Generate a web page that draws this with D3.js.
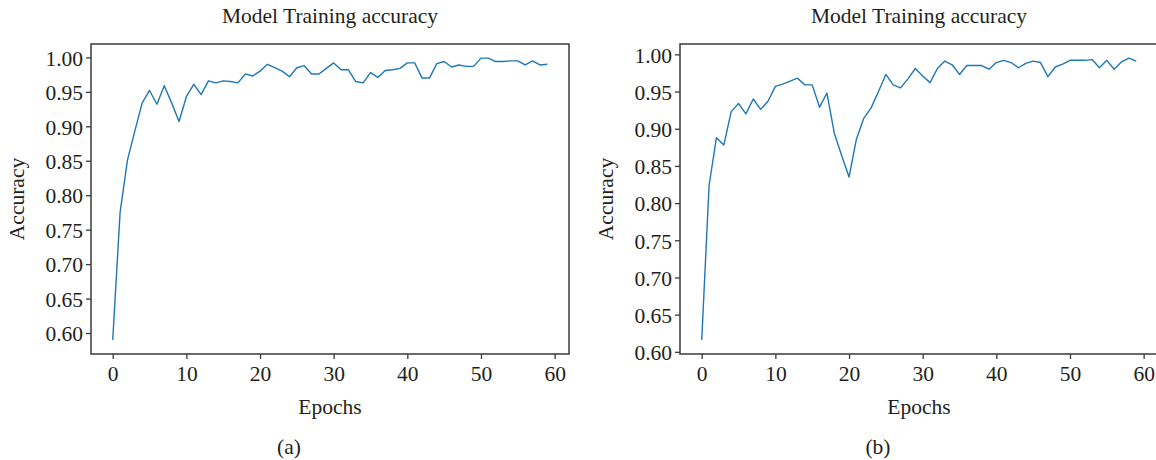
<!DOCTYPE html>
<html lang="en">
	<head>
		<meta charset="utf-8">
		<title>Model Training accuracy</title>
		<script src="https://cdn.jsdelivr.net/npm/d3@7"></script>
		<style>
			html, body { margin: 0; padding: 0; background: #fff; }
			svg { display: block; }
			text { font-family: "Liberation Serif", "DejaVu Serif", serif; fill: #231f20; }
			.axis line { stroke: #3a3a3a; stroke-width: 1.3px; }
			.axis text { font-size: 21.5px; }
		</style>
	</head>
	<body>
		<script>

			//Training accuracy per epoch, panel (a)
			var accA = [
				0.590, 0.775, 0.851, 0.893, 0.934, 0.952, 0.932, 0.959, 0.934, 0.907,
				0.943, 0.961, 0.946, 0.966, 0.963, 0.966, 0.965, 0.963, 0.976, 0.973,
				0.980, 0.990, 0.985, 0.980, 0.972, 0.985, 0.988, 0.976, 0.976, 0.984,
				0.992, 0.982, 0.982, 0.965, 0.963, 0.978, 0.971, 0.981, 0.982, 0.984,
				0.992, 0.992, 0.970, 0.970, 0.991, 0.994, 0.986, 0.989, 0.987, 0.987,
				0.999, 0.999, 0.994, 0.994, 0.995, 0.995, 0.989, 0.995, 0.989, 0.990
			];

			//Training accuracy per epoch, panel (b)
			var accB = [
				0.616, 0.824, 0.888, 0.878, 0.923, 0.934, 0.920, 0.940, 0.926, 0.937,
				0.957, 0.960, 0.964, 0.968, 0.959, 0.959, 0.929, 0.948, 0.894, 0.864,
				0.835, 0.886, 0.914, 0.928, 0.950, 0.973, 0.959, 0.955, 0.967, 0.981,
				0.971, 0.962, 0.981, 0.991, 0.986, 0.973, 0.985, 0.985, 0.985, 0.980,
				0.989, 0.992, 0.989, 0.982, 0.988, 0.991, 0.989, 0.970, 0.983, 0.987,
				0.992, 0.992, 0.992, 0.993, 0.982, 0.992, 0.980, 0.990, 0.995, 0.991
			];

			//Tick labels
			var xTicks = [0, 10, 20, 30, 40, 50, 60];
			var yTicks = [0.60, 0.65, 0.70, 0.75, 0.80, 0.85, 0.90, 0.95, 1.00];

			//Texts
			var chartTitle = "Model Training accuracy";
			var xLabel = "Epochs";
			var yLabel = "Accuracy";
			var panelLabels = ["(a)", "(b)"];

			//Canvas
			var w = 1156;
			var h = 460;

			var svg = d3.select("body")
						.append("svg")
						.attr("width", w)
						.attr("height", h);

			//Draw one panel with its frame at (left, top)
			function drawPanel(data, left, label) {
				var pw = 478, ph = 310, top = 44;
				var epochs = d3.range(data.length);

				//matplotlib-style 5% margins
				var xMin = d3.min(epochs), xMax = d3.max(epochs);
				var xPad = (xMax - xMin) * 0.05;
				var yMin = d3.min(data), yMax = d3.max(data);
				var yPad = (yMax - yMin) * 0.05;

				var xScale = d3.scaleLinear()
					.domain([xMin - xPad, xMax + xPad])
					.range([0, pw]);
				var yScale = d3.scaleLinear()
					.domain([yMin - yPad, yMax + yPad])
					.range([ph, 0]);

				var g = svg.append("g")
					.attr("transform", "translate(" + left + "," + top + ")");

				//Axes
				var xAxis = g.append("g")
					.attr("class", "axis")
					.attr("transform", "translate(0," + ph + ")")
					.call(d3.axisBottom(xScale).tickValues(xTicks).tickSize(5).tickPadding(7));
				var yAxis = g.append("g")
					.attr("class", "axis")
					.call(d3.axisLeft(yScale).tickValues(yTicks).tickSize(5).tickPadding(3)
						.tickFormat(d3.format(".2f")));
				xAxis.select(".domain").remove();
				yAxis.select(".domain").remove();
				yAxis.selectAll("text").attr("dy", "0.36em");

				//Line
				var line = d3.line()
					.x(function(d, i) { return xScale(epochs[i]); })
					.y(function(d) { return yScale(d); });

				g.append("path")
					.datum(data)
					.attr("fill", "none")
					.attr("stroke", "#1f77b4")
					.attr("stroke-width", 1.4)
					.attr("stroke-linejoin", "round")
					.attr("d", line);

				//Frame
				g.append("rect")
					.attr("x", 0)
					.attr("y", 0)
					.attr("width", pw)
					.attr("height", ph)
					.attr("fill", "none")
					.attr("stroke", "#3a3a3a")
					.attr("stroke-width", 1.5);

				//Title and axis labels
				g.append("text")
					.attr("x", pw / 2)
					.attr("y", -21)
					.attr("text-anchor", "middle")
					.style("font-size", "21.5px")
					.text(chartTitle);

				g.append("text")
					.attr("x", pw / 2)
					.attr("y", ph + 60)
					.attr("text-anchor", "middle")
					.style("font-size", "21.5px")
					.text(xLabel);

				g.append("text")
					.attr("transform", "translate(-67," + (ph / 2) + ") rotate(-90)")
					.attr("text-anchor", "middle")
					.style("font-size", "21.5px")
					.text(yLabel);

				g.append("text")
					.attr("x", pw / 2 - 41)
					.attr("y", ph + 100)
					.attr("text-anchor", "middle")
					.style("font-size", "21.5px")
					.text(label);
			}

			drawPanel(accA, 91, panelLabels[0]);
			drawPanel(accB, 680, panelLabels[1]);

		</script>
	</body>
</html>
